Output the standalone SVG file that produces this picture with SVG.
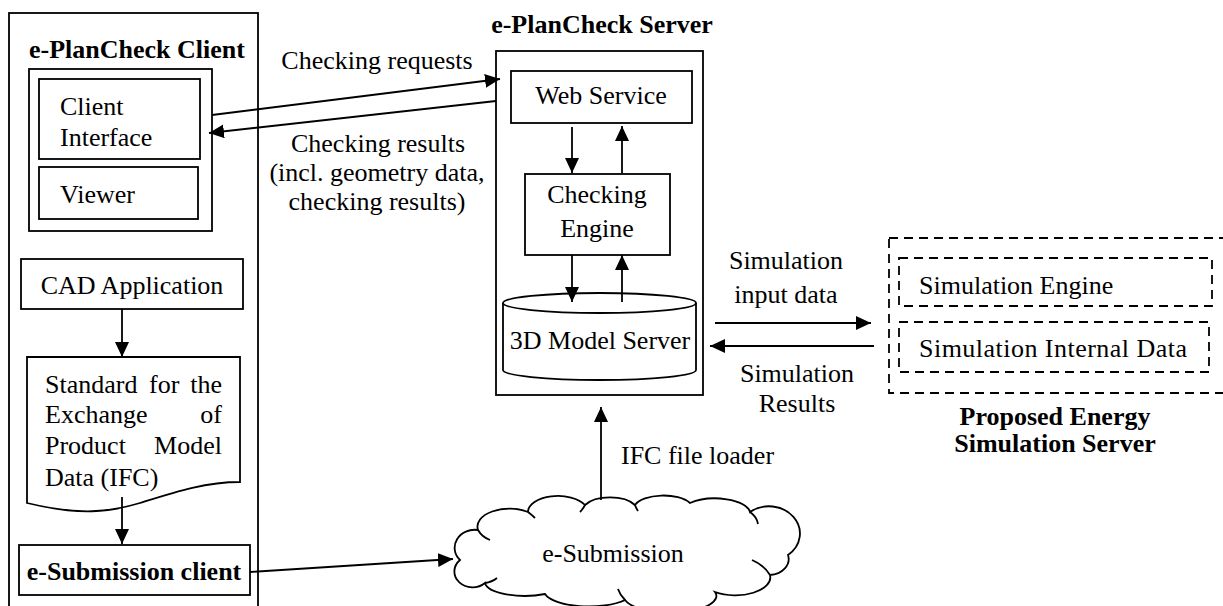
<svg xmlns="http://www.w3.org/2000/svg" width="1223" height="606" viewBox="0 0 1223 606">
<style>
text{font-family:"Liberation Serif","Times New Roman",serif;font-size:26px;fill:#000}
.b{font-weight:bold}
.m{text-anchor:middle}
.e{text-anchor:end}
.box{fill:none;stroke:#000;stroke-width:1.8}
.dash{fill:none;stroke:#000;stroke-width:1.8;stroke-dasharray:9,6}
.ln{fill:none;stroke:#000;stroke-width:1.8;marker-end:url(#ah)}
</style>
<defs>
<marker id="ah" viewBox="0 0 15 14" refX="15" refY="7" markerWidth="15" markerHeight="14" markerUnits="userSpaceOnUse" orient="auto"><path d="M0,0 L15,7 L0,14 z" fill="#000"/></marker>
</defs>
<rect width="1223" height="606" fill="#fff"/>

<g id="client">
<rect class="box" x="9" y="13" width="249" height="610"/>
<text class="b" x="29" y="58">e-PlanCheck Client</text>
<rect class="box" x="29" y="69" width="183" height="162"/>
</g>
<g id="client-interface">
<rect class="box" x="39" y="79" width="161" height="80"/>
<text x="60" y="115">Client</text>
<text x="60" y="146">Interface</text>
</g>
<g id="viewer">
<rect class="box" x="39" y="167" width="159" height="52"/>
<text x="60" y="203">Viewer</text>
</g>
<g id="cad">
<rect class="box" x="21" y="259" width="222" height="50"/>
<text class="m" x="132" y="294">CAD Application</text>
</g>
<g id="ifc-doc">
<path class="box" d="M27,357 H240 V482 C205,482 175,492 140,503 C110,512 80,516 27,503 Z"/>
<text x="45" y="393">Standard</text><text x="149" y="393">for</text><text class="e" x="222" y="393">the</text>
<text x="45" y="423">Exchange</text><text class="e" x="222" y="423">of</text>
<text x="45" y="454">Product</text><text class="e" x="222" y="454">Model</text>
<text x="45" y="486">Data (IFC)</text>
</g>
<g id="esub-client">
<rect class="box" x="19" y="545" width="231" height="50"/>
<text class="b m" x="134" y="580">e-Submission client</text>
</g>

<g id="server">
<text class="b m" x="602" y="33">e-PlanCheck Server</text>
<rect class="box" x="496" y="51" width="207" height="344"/>
</g>
<g id="web-service">
<rect class="box" x="511" y="71" width="181" height="52"/>
<text class="m" x="601" y="104">Web Service</text>
</g>
<g id="checking-engine">
<rect class="box" x="525" y="174" width="145" height="81"/>
<text class="m" x="597" y="203">Checking</text>
<text class="m" x="597" y="237">Engine</text>
</g>
<g id="model-server">
<path class="box" d="M503,303 A96.5,10 0 0 1 696,303 V370 A96.5,10 0 0 1 503,370 Z"/>
<path class="box" d="M503,303 A96.5,10 0 0 0 696,303"/>
<text class="m" x="600" y="349">3D Model Server</text>
</g>

<g id="sim-server">
<rect class="dash" x="889" y="238" width="345" height="155"/>
<text class="b m" x="1055" y="425">Proposed Energy</text>
<text class="b m" x="1055" y="452">Simulation Server</text>
</g>
<g id="sim-engine">
<rect class="dash" x="899" y="258" width="313" height="48"/>
<text x="919" y="294">Simulation Engine</text>
</g>
<g id="sim-data">
<rect class="dash" x="899" y="322" width="310" height="50"/>
<text x="919" y="357" textLength="268" lengthAdjust="spacing">Simulation  Internal  Data</text>
</g>

<g id="esubmission">
<path class="box" d="M460,560 A20,18 0 0 1 478,530 A32,18 0 0 1 528,512 A30,16 0 0 1 585,505 A28,14 0 0 1 635,505 A30,14 0 0 1 690,503 A35,15 0 0 1 750,512 A25,22 0 0 1 788,555 A20,16 0 0 1 770,575 A35,18 0 0 1 715,592 A45,16 0 0 1 625,600 A45,16 0 0 1 545,594 A40,14 0 0 1 485,583 A16,14 0 0 1 460,560 Z"/>
<path class="box" d="M478,530 Q482,537 490,540 M528,512 Q532,515 535,518 M585,505 Q583,509 580,512 M635,505 Q636,508 638,511 M750,512 Q757,517 758,524 M770,575 Q764,565 752,560 M625,600 Q620,595 618,589 M485,583 Q492,582 497,578"/>
<text class="m" x="613" y="562">e-Submission</text>
</g>

<g id="connectors">
<line class="ln" x1="212" y1="115" x2="500" y2="79"/>
<line class="ln" x1="496" y1="101" x2="209" y2="133"/>
<text class="m" x="377" y="69">Checking requests</text>
<text class="m" x="378" y="152">Checking results</text>
<text class="m" x="377" y="181">(incl. geometry data,</text>
<text class="m" x="377" y="210">checking results)</text>
<line class="ln" x1="572" y1="127" x2="572" y2="173"/>
<line class="ln" x1="622" y1="173" x2="622" y2="126"/>
<line class="ln" x1="572" y1="255" x2="572" y2="302"/>
<line class="ln" x1="622" y1="302" x2="622" y2="255"/>
<line class="ln" x1="715" y1="323" x2="871" y2="323"/>
<line class="ln" x1="874" y1="346" x2="710" y2="346"/>
<text class="m" x="786" y="269">Simulation</text>
<text class="m" x="786" y="303">input data</text>
<text class="m" x="797" y="382">Simulation</text>
<text class="m" x="797" y="412">Results</text>
<line class="ln" x1="601" y1="500" x2="601" y2="407"/>
<text x="621" y="464">IFC file loader</text>
<line class="ln" x1="122" y1="309" x2="122" y2="357"/>
<line class="ln" x1="122" y1="497" x2="122" y2="544"/>
<line class="ln" x1="250" y1="572" x2="453" y2="559"/>
</g>
</svg>
